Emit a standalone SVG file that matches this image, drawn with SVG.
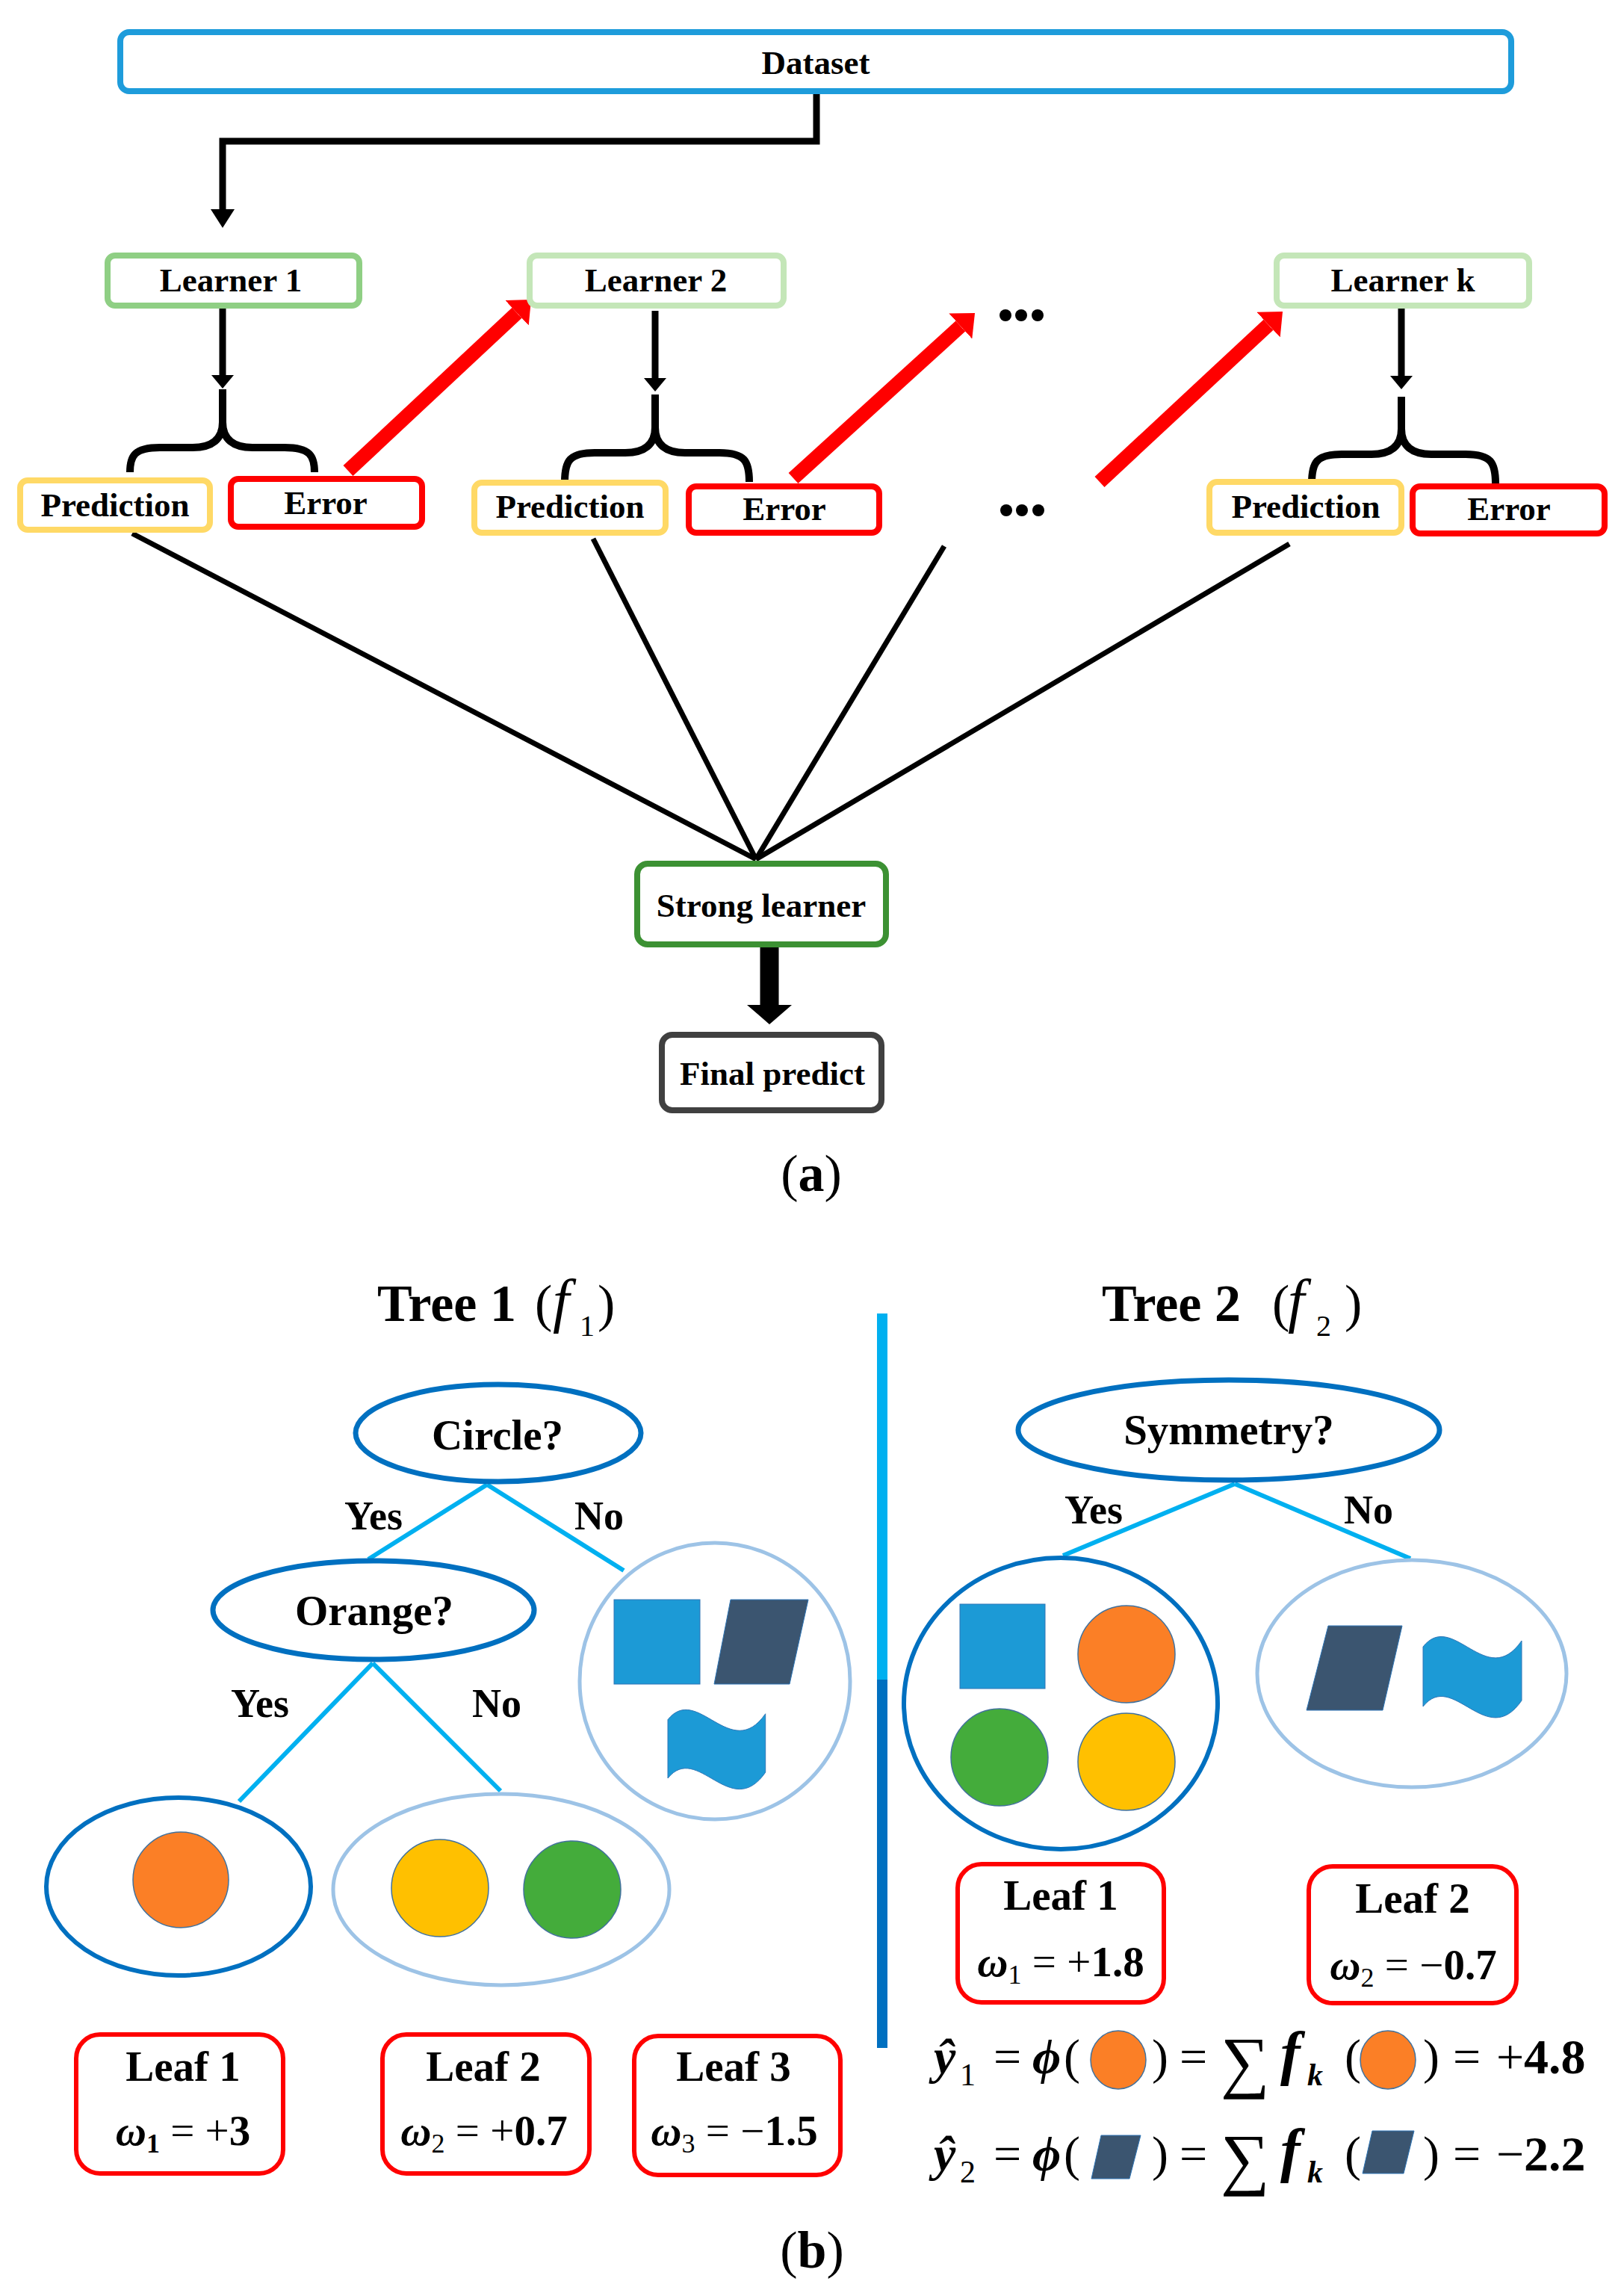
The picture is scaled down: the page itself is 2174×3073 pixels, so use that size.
<svg xmlns="http://www.w3.org/2000/svg" width="2174" height="3073" viewBox="0 0 2174 3073">
<style>
  text { font-family: "Liberation Serif", "Times New Roman", serif; fill: #000; }
  .lbl { font-weight: bold; font-size: 45px; text-anchor: middle; }
  .box { fill: #fff; stroke-width: 8; }
  .learner1 { stroke: #8FCF84; }
  .learner { stroke: #C4E6B8; }
  .pred { stroke: #FFD966; }
  .err { stroke: #FF0000; }
  .strong { stroke: #3C9133; }
  .final { stroke: #404040; }
  .ds { stroke: #1E9CDB; }
  .conn { stroke: #000; stroke-width: 9; fill: none; }
  .fan { stroke: #000; stroke-width: 7; fill: none; }
  .brace { stroke: #000; stroke-width: 10; fill: none; }
  .red { stroke: #FF0000; stroke-width: 19; fill: none; }
  .branch { stroke: #00B0F0; stroke-width: 6; fill: none; }
  .qnode { fill: #fff; stroke: #0070C0; stroke-width: 7; }
  .leafDark { fill: #fff; stroke: #0070C0; stroke-width: 6; }
  .leafLight { fill: #fff; stroke: #9DC3E6; stroke-width: 5; }
  .q { font-weight: bold; font-size: 57px; text-anchor: middle; }
  .yn { font-weight: bold; font-size: 54px; }
  .leafBox { fill: #fff; stroke: #FF0000; stroke-width: 6; }
  .leafT { font-weight: bold; font-size: 57px; text-anchor: middle; }
  .w { font-size: 57px; text-anchor: middle; }
  .orange { fill: #FB7F26; stroke: #41719C; stroke-width: 1.5; }
  .yellow { fill: #FFC000; stroke: #41719C; stroke-width: 1.5; }
  .green { fill: #44AC3B; stroke: #41719C; stroke-width: 1.5; }
  .sq { fill: #1C9AD6; stroke: #2E75B6; stroke-width: 1; }
  .para { fill: #3B5570; stroke: #2E75B6; stroke-width: 1; }
  .title { font-size: 70px; }
  .f { font-size: 66px; }
</style>
<defs>
  <marker id="redHead" markerUnits="userSpaceOnUse" viewBox="0 -23 26 46" markerWidth="26" markerHeight="46" refX="0" refY="0" orient="auto">
    <path d="M0,-23 L26,0 L0,23 Z" fill="#FF0000"/>
  </marker>
  <marker id="smallHead" markerUnits="userSpaceOnUse" viewBox="0 -15 18 30" markerWidth="18" markerHeight="30" refX="0" refY="0" orient="auto">
    <path d="M0,-15 L18,0 L0,15 Z" fill="#000"/>
  </marker>
  <marker id="dsHead" markerUnits="userSpaceOnUse" viewBox="0 -16 25 32" markerWidth="25" markerHeight="32" refX="0" refY="0" orient="auto">
    <path d="M0,-16 L25,0 L0,16 Z" fill="#000"/>
  </marker>
  <marker id="bigHead" markerUnits="userSpaceOnUse" viewBox="0 -30 26 60" markerWidth="26" markerHeight="60" refX="0" refY="0" orient="auto">
    <path d="M0,-30 L26,0 L0,30 Z" fill="#000"/>
  </marker>
  <path id="wave" d="M0,20 C40,-30 85,80 132,12 L132,92 C85,160 40,50 0,100 Z"/>
</defs>

<!-- ============ (a) ============ -->
<g id="connectors">
  <path class="conn" d="M1093,124 V189 H298 V280" marker-end="url(#dsHead)"/>
  <line class="conn" x1="298" y1="412" x2="298" y2="502" marker-end="url(#smallHead)"/>
  <line class="conn" x1="877" y1="416" x2="877" y2="506" marker-end="url(#smallHead)"/>
  <line class="conn" x1="1876" y1="412" x2="1876" y2="503" marker-end="url(#smallHead)"/>
  <path class="brace" d="M174,632 C174,610 180,599 214,599 L258,599 C284,599 298,588 298,565 L298,521 M298,565 C298,588 312,599 338,599 L381,599 C415,599 421,610 421,632"/>
  <path class="brace" d="M756,645 C756,617 762,606 796,606 L837,606 C863,606 877,595 877,572 L877,528 M877,572 C877,595 891,606 917,606 L963,606 C997,606 1003,617 1003,645"/>
  <path class="brace" d="M1756,647 C1756,619 1762,608 1796,608 L1836,608 C1862,608 1876,597 1876,574 L1876,531 M1876,574 C1876,597 1890,608 1916,608 L1962,608 C1996,608 2002,619 2002,647"/>
  <line class="red" x1="466" y1="630" x2="692" y2="418.8" marker-end="url(#redHead)"/>
  <line class="red" x1="1062" y1="640" x2="1285.8" y2="436.5" marker-end="url(#redHead)"/>
  <line class="red" x1="1472" y1="645" x2="1698" y2="434.7" marker-end="url(#redHead)"/>
  <line class="fan" x1="177" y1="714" x2="1012" y2="1150"/>
  <line class="fan" x1="794" y1="721" x2="1012" y2="1150"/>
  <line class="fan" x1="1264" y1="731" x2="1012" y2="1150"/>
  <line class="fan" x1="1726" y1="728" x2="1012" y2="1150"/>
  <line x1="1030" y1="1268" x2="1030" y2="1345" stroke="#000" stroke-width="25" marker-end="url(#bigHead)"/>
</g>

<g id="dots">
  <circle cx="1346" cy="422" r="8"/><circle cx="1367" cy="422" r="8"/><circle cx="1389" cy="422" r="8"/>
  <circle cx="1347" cy="683" r="8"/><circle cx="1368" cy="683" r="8"/><circle cx="1390" cy="683" r="8"/>
</g>

<g id="dataset">
  <rect class="box ds" x="161" y="43" width="1862" height="79" rx="12"/>
  <text class="lbl" x="1092" y="99" font-size="46">Dataset</text>
</g>
<g id="learner1">
  <rect class="box learner1" x="144" y="342" width="337" height="67" rx="10"/>
  <text class="lbl" x="309" y="390">Learner 1</text>
</g>
<g id="learner2">
  <rect class="box learner" x="709" y="342" width="340" height="67" rx="10"/>
  <text class="lbl" x="878" y="390">Learner 2</text>
</g>
<g id="learnerk">
  <rect class="box learner" x="1709" y="342" width="338" height="67" rx="10"/>
  <text class="lbl" x="1878" y="390">Learner k</text>
</g>
<g id="prediction1">
  <rect class="box pred" x="27" y="643" width="254" height="66" rx="10"/>
  <text class="lbl" x="154" y="691">Prediction</text>
</g>
<g id="error1">
  <rect class="box err" x="309" y="641" width="256" height="64" rx="10"/>
  <text class="lbl" x="436" y="688">Error</text>
</g>
<g id="prediction2">
  <rect class="box pred" x="635" y="646" width="256" height="67" rx="10"/>
  <text class="lbl" x="763" y="693">Prediction</text>
</g>
<g id="error2">
  <rect class="box err" x="922" y="651" width="255" height="62" rx="10"/>
  <text class="lbl" x="1050" y="696">Error</text>
</g>
<g id="predictionk">
  <rect class="box pred" x="1619" y="645" width="257" height="68" rx="10"/>
  <text class="lbl" x="1748" y="693">Prediction</text>
</g>
<g id="errork">
  <rect class="box err" x="1891" y="651" width="257" height="63" rx="10"/>
  <text class="lbl" x="2020" y="696">Error</text>
</g>
<g id="strong">
  <rect class="box strong" x="853" y="1156" width="333" height="108" rx="14"/>
  <text class="lbl" x="1019" y="1227">Strong learner</text>
</g>
<g id="final">
  <rect class="box final" x="886" y="1385" width="294" height="101" rx="14"/>
  <text class="lbl" x="1034" y="1452">Final predict</text>
</g>
<text x="1086" y="1594" font-size="70" text-anchor="middle">(<tspan font-weight="bold">a</tspan>)</text>

<!-- ============ (b) ============ -->
<g id="divider">
  <line x1="1181" y1="1758" x2="1181" y2="2248" stroke="#00B0F0" stroke-width="14"/>
  <line x1="1181" y1="2248" x2="1181" y2="2741" stroke="#0070C0" stroke-width="14"/>
</g>

<text class="title" y="1768"><tspan x="505" font-weight="bold">Tree 1</tspan><tspan x="716">(</tspan><tspan x="740" font-style="italic" font-size="80">f</tspan><tspan x="776" dy="20" font-size="40">1</tspan><tspan x="800" dy="-20">)</tspan></text>
<text class="title" y="1768"><tspan x="1475" font-weight="bold">Tree 2</tspan><tspan x="1703">(</tspan><tspan x="1724" font-style="italic" font-size="80">f</tspan><tspan x="1762" dy="20" font-size="40">2</tspan><tspan x="1800" dy="-20">)</tspan></text>

<g id="tree1-edges">
  <line class="branch" x1="652" y1="1987" x2="493" y2="2087"/>
  <line class="branch" x1="652" y1="1987" x2="835" y2="2102"/>
  <line class="branch" x1="499" y1="2226" x2="320" y2="2411"/>
  <line class="branch" x1="499" y1="2226" x2="670" y2="2397"/>
</g>
<g id="tree2-edges">
  <line class="branch" x1="1653" y1="1986" x2="1423" y2="2082"/>
  <line class="branch" x1="1653" y1="1986" x2="1888" y2="2086"/>
</g>

<g id="circleQ">
  <ellipse class="qnode" cx="667" cy="1918" rx="191" ry="65"/>
  <text class="q" x="666" y="1940">Circle?</text>
</g>
<text class="yn" x="461" y="2047">Yes</text>
<text class="yn" x="769" y="2047">No</text>
<g id="orangeQ">
  <ellipse class="qnode" cx="500" cy="2155" rx="215" ry="66"/>
  <text class="q" x="501" y="2175">Orange?</text>
</g>
<text class="yn" x="309" y="2298">Yes</text>
<text class="yn" x="632" y="2298">No</text>

<g id="t1-noset">
  <ellipse class="leafLight" cx="957" cy="2250" rx="181" ry="185"/>
  <rect class="sq" x="822" y="2141" width="115" height="113"/>
  <polygon class="para" points="978,2141 1082,2141 1057,2254 956,2254"/>
  <use href="#wave" class="sq" transform="translate(894,2282) scale(0.99,0.98)"/>
</g>
<g id="t1-leaf1set">
  <ellipse class="leafDark" cx="239" cy="2525" rx="177" ry="119"/>
  <circle class="orange" cx="242" cy="2516" r="64"/>
</g>
<g id="t1-leaf2set">
  <ellipse class="leafLight" cx="671" cy="2529" rx="225" ry="128"/>
  <circle class="yellow" cx="589" cy="2527" r="65"/>
  <circle class="green" cx="766" cy="2529" r="65"/>
</g>

<g id="t1-leaf1">
  <rect class="leafBox" x="102" y="2723" width="277" height="186" rx="32"/>
  <text class="leafT" x="245" y="2785">Leaf 1</text>
  <text class="w" x="245" y="2871"><tspan font-style="italic" font-weight="bold">ω</tspan><tspan font-size="36" dy="10" font-weight="bold">1</tspan><tspan dy="-10"> = +</tspan><tspan font-weight="bold">3</tspan></text>
</g>
<g id="t1-leaf2">
  <rect class="leafBox" x="512" y="2723" width="277" height="186" rx="32"/>
  <text class="leafT" x="647" y="2785">Leaf 2</text>
  <text class="w" x="648" y="2871"><tspan font-style="italic" font-weight="bold">ω</tspan><tspan font-size="36" dy="10">2</tspan><tspan dy="-10"> = +</tspan><tspan font-weight="bold">0.7</tspan></text>
</g>
<g id="t1-leaf3">
  <rect class="leafBox" x="849" y="2725" width="276" height="186" rx="32"/>
  <text class="leafT" x="982" y="2785">Leaf 3</text>
  <text class="w" x="983" y="2871"><tspan font-style="italic" font-weight="bold">ω</tspan><tspan font-size="36" dy="10">3</tspan><tspan dy="-10"> = −</tspan><tspan font-weight="bold">1.5</tspan></text>
</g>

<g id="symmetryQ">
  <ellipse class="qnode" cx="1645" cy="1914" rx="282" ry="67" stroke-width="8"/>
  <text class="q" x="1645" y="1933">Symmetry?</text>
</g>
<text class="yn" x="1425" y="2039">Yes</text>
<text class="yn" x="1799" y="2039">No</text>

<g id="t2-yesset">
  <ellipse class="leafDark" cx="1420" cy="2280" rx="210" ry="195"/>
  <rect class="sq" x="1285" y="2147" width="114" height="113"/>
  <circle class="orange" cx="1508" cy="2214" r="65"/>
  <circle class="green" cx="1338" cy="2352" r="65"/>
  <circle class="yellow" cx="1508" cy="2358" r="65"/>
</g>
<g id="t2-noset">
  <ellipse class="leafLight" cx="1890" cy="2240" rx="207" ry="152"/>
  <polygon class="para" points="1778,2176 1877,2176 1851,2289 1749,2289"/>
  <use href="#wave" class="sq" transform="translate(1905,2184)"/>
</g>

<g id="t2-leaf1">
  <rect class="leafBox" x="1282" y="2495" width="276" height="185" rx="32"/>
  <text class="leafT" x="1420" y="2556">Leaf 1</text>
  <text class="w" x="1420" y="2645"><tspan font-style="italic" font-weight="bold">ω</tspan><tspan font-size="36" dy="10">1</tspan><tspan dy="-10"> = +</tspan><tspan font-weight="bold">1.8</tspan></text>
</g>
<g id="t2-leaf2">
  <rect class="leafBox" x="1752" y="2498" width="278" height="183" rx="32"/>
  <text class="leafT" x="1891" y="2560">Leaf 2</text>
  <text class="w" x="1892" y="2649"><tspan font-style="italic" font-weight="bold">ω</tspan><tspan font-size="36" dy="10">2</tspan><tspan dy="-10"> = −</tspan><tspan font-weight="bold">0.7</tspan></text>
</g>

<g id="formula1">
  <text class="f" y="2775"><tspan x="1250" font-style="italic" font-weight="bold">ŷ</tspan><tspan x="1285" dy="16" font-size="42">1</tspan><tspan x="1330" dy="-16">=</tspan><tspan x="1382" font-style="italic" font-weight="bold">ϕ</tspan><tspan x="1424">(</tspan><tspan x="1542">)</tspan><tspan x="1579">=</tspan><tspan x="1634" dy="15" font-size="92">∑</tspan><tspan x="1714" dy="-15" font-style="italic" font-weight="bold" font-size="80">f</tspan><tspan x="1750" dy="16" font-size="42" font-style="italic" font-weight="bold">k</tspan><tspan x="1800" dy="-16">(</tspan><tspan x="1905">)</tspan><tspan x="1945">=</tspan><tspan x="2003">+</tspan><tspan x="2040" font-weight="bold">4.8</tspan></text>
  <ellipse class="orange" cx="1497" cy="2757" rx="37" ry="39"/>
  <ellipse class="orange" cx="1858" cy="2757" rx="37" ry="39"/>
</g>
<g id="formula2">
  <text class="f" y="2905"><tspan x="1250" font-style="italic" font-weight="bold">ŷ</tspan><tspan x="1285" dy="16" font-size="42">2</tspan><tspan x="1330" dy="-16">=</tspan><tspan x="1382" font-style="italic" font-weight="bold">ϕ</tspan><tspan x="1424">(</tspan><tspan x="1542">)</tspan><tspan x="1579">=</tspan><tspan x="1634" dy="15" font-size="92">∑</tspan><tspan x="1714" dy="-15" font-style="italic" font-weight="bold" font-size="80">f</tspan><tspan x="1750" dy="16" font-size="42" font-style="italic" font-weight="bold">k</tspan><tspan x="1800" dy="-16">(</tspan><tspan x="1905">)</tspan><tspan x="1945">=</tspan><tspan x="2003">−</tspan><tspan x="2040" font-weight="bold">2.2</tspan></text>
  <polygon class="para" points="1474,2858 1527,2858 1512,2916 1461,2916"/>
  <polygon class="para" points="1837,2852 1893,2852 1879,2909 1824,2909"/>
</g>

<text x="1087" y="3035" font-size="70" text-anchor="middle">(<tspan font-weight="bold">b</tspan>)</text>
</svg>
